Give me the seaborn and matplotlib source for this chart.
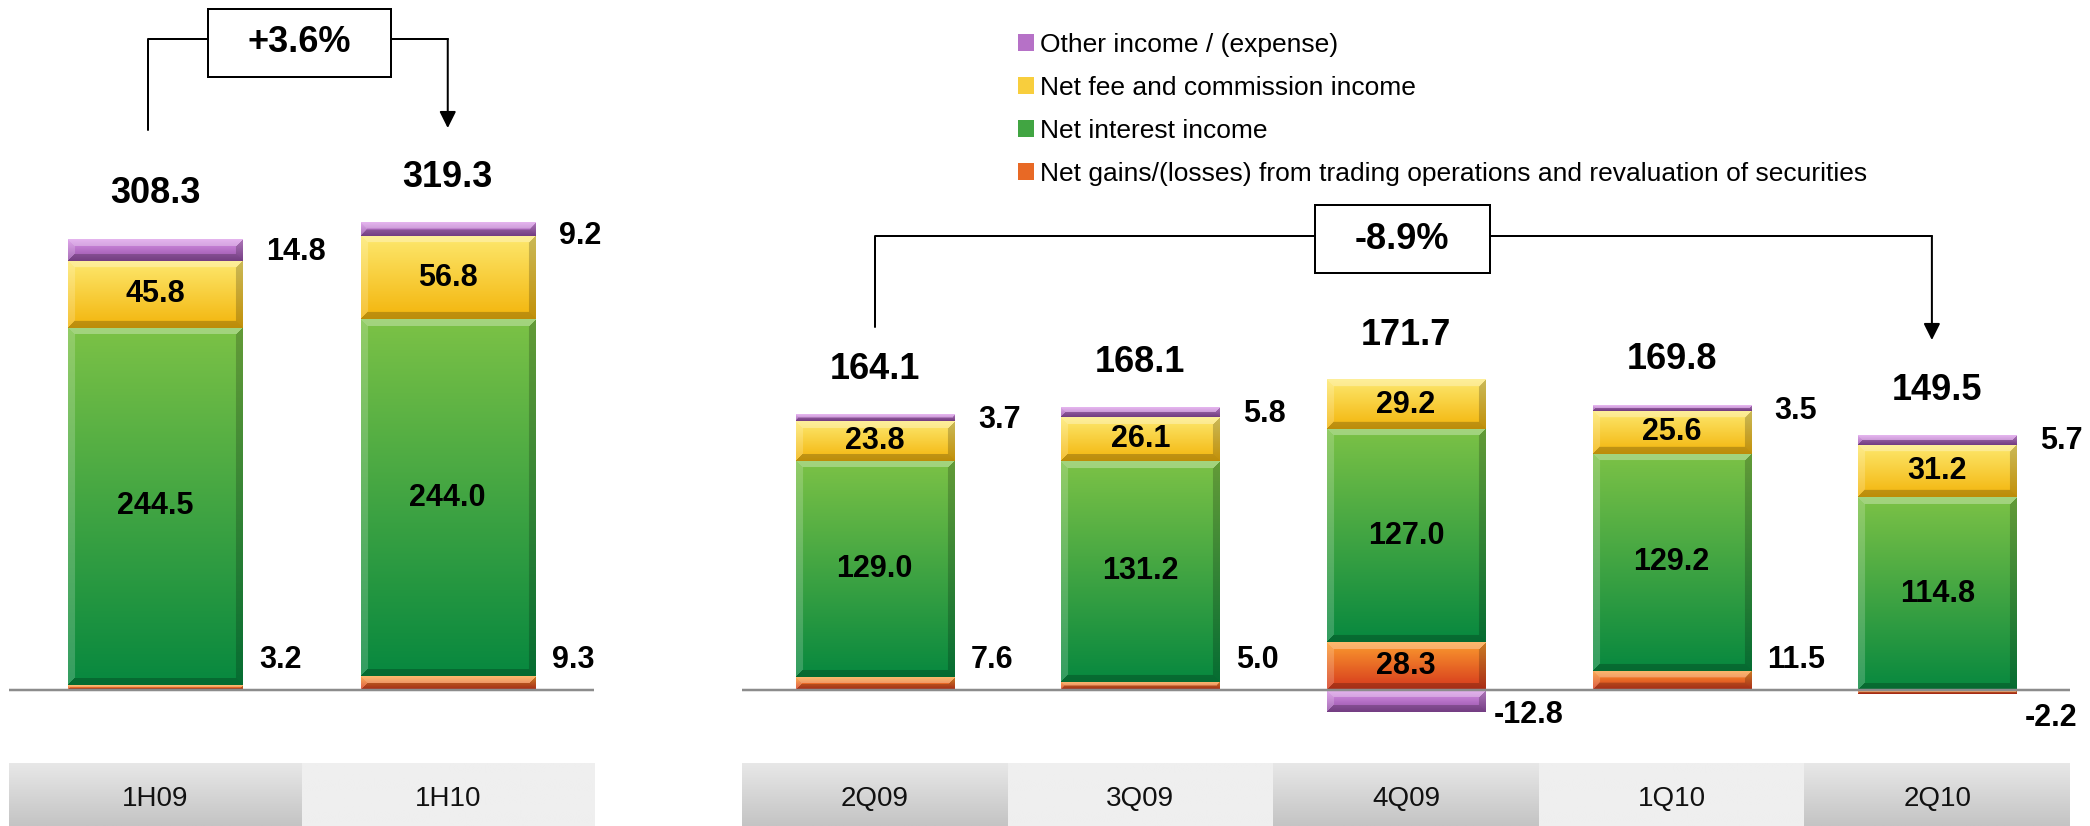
import numpy as np
import pandas as pd
import matplotlib.pyplot as plt
import seaborn as sns
from matplotlib.colors import to_rgb
from matplotlib.patches import Patch, Rectangle

sns.set_style('white')
plt.rcParams['font.family'] = ['Liberation Sans', 'DejaVu Sans']
plt.rcParams['text.color'] = 'black'

# --- data ---
half_periods = ['1H09', '1H10']
half_trading = [3.2, 9.3]
half_interest = [244.5, 244.0]
half_fee = [45.8, 56.8]
half_other = [14.8, 9.2]
half_total = [308.3, 319.3]
half_change = '+3.6%'

quarters = ['2Q09', '3Q09', '4Q09', '1Q10', '2Q10']
q_trading = [7.6, 5.0, 28.3, 11.5, -2.2]
q_interest = [129.0, 131.2, 127.0, 129.2, 114.8]
q_fee = [23.8, 26.1, 29.2, 25.6, 31.2]
q_other = [3.7, 5.8, -12.8, 3.5, 5.7]
q_total = [164.1, 168.1, 171.7, 169.8, 149.5]
q_change = '-8.9%'

series_names = ['Net gains/(losses) from trading operations and revaluation of securities',
                'Net interest income',
                'Net fee and commission income',
                'Other income / (expense)']
# (top, bottom) of each segment's gradient
series_colors = [('#fb9a2e', '#d5381d'),
                 ('#7cc246', '#07883f'),
                 ('#fde86e', '#f3b50c'),
                 ('#d893e6', '#9550a8')]

# --- layout (pixels) ---
W, H = 2090, 826
BASE = 690          # zero line
AX_BOTTOM = 760
STRIP = (763, 826)
BAR_W = 0.595
PT = 72 / 100       # px -> points


def px_rect(x0, y0, x1, y1):
    return [x0 / W, 1 - y1 / H, (x1 - x0) / W, (y1 - y0) / H]


def bar_image(ctop, cbot, w, h, bevel=7):
    h = max(int(round(h)), 2)
    w = max(int(round(w)), 2)
    t = np.linspace(0, 1, h)[:, None, None]
    img = (1 - t) * np.array(to_rgb(ctop)) + t * np.array(to_rgb(cbot))
    img = np.repeat(img, w, axis=1)
    I, J = np.mgrid[0:h, 0:w]
    d = np.stack([I, h - 1 - I, J, w - 1 - J])
    edge = d.argmin(0)
    inb = d.min(0) < min(bevel, max(h // 2, 1))
    shade = {0: (1, 0.30), 1: (0, 0.22), 2: (1, 0.18), 3: (0, 0.20)}
    for k, (tgt, a) in shade.items():
        m = inb & (edge == k)
        img[m] = img[m] * (1 - a) + tgt * a
    return img


def draw_panel(ax, cats, layers, totals, change, scale, ux, top_off, bracket, box):
    n = len(cats)
    pos_base = np.zeros(n)
    neg_base = np.zeros(n)
    for vals, (ctop, cbot) in zip(layers, series_colors):
        vals = np.array(vals, dtype=float)
        bottom = np.where(vals >= 0, pos_base, neg_base)
        df = pd.DataFrame({'period': cats, 'value': vals})
        sns.barplot(data=df, x='period', y='value', bottom=bottom, width=BAR_W,
                    color=ctop, errorbar=None, linewidth=0, ax=ax)
        for rect in ax.containers[-1]:
            x, y, w, h = rect.get_x(), rect.get_y(), rect.get_width(), rect.get_height()
            lo, hi = min(y, y + h), max(y, y + h)
            ax.imshow(bar_image(ctop, cbot, w * ux, (hi - lo) * scale),
                      extent=[x, x + w, lo, hi], aspect='auto', origin='upper',
                      interpolation='bilinear', zorder=3)
        pos_base += np.clip(vals, 0, None)
        neg_base += np.clip(vals, None, 0)

    trading, interest, fee, other = [np.array(v, dtype=float) for v in layers]
    lab = dict(fontsize=22, fontweight='bold', color='black', zorder=5)
    for i in range(n):
        right = i + BAR_W / 2
        ax.annotate(f'{totals[i]:.1f}', (i, pos_base[i]), xytext=(0, 45 * PT),
                    textcoords='offset points', ha='center', va='center',
                    fontsize=26, fontweight='bold', color='black', zorder=5)
        b = max(trading[i], 0)
        ax.text(i, b + interest[i] / 2, f'{interest[i]:.1f}', ha='center', va='center', **lab)
        ax.text(i, b + interest[i] + fee[i] / 2, f'{fee[i]:.1f}', ha='center', va='center', **lab)
        if trading[i] > 20:
            ax.text(i, trading[i] / 2, f'{trading[i]:.1f}', ha='center', va='center', **lab)
        elif trading[i] >= 0:
            ax.annotate(f'{trading[i]:.1f}', (right, 0), xytext=(17 * PT, 30 * PT),
                        textcoords='offset points', ha='left', va='center', **lab)
        else:
            ax.annotate(f'{trading[i]:.1f}', (right, 0), xytext=(9 * PT, -28 * PT),
                        textcoords='offset points', ha='left', va='center', **lab)
        if other[i] >= 0:
            ax.annotate(f'{other[i]:.1f}', (right, pos_base[i]), xytext=(24 * PT, -top_off * PT),
                        textcoords='offset points', ha='left', va='center', **lab)
        else:
            ax.annotate(f'{other[i]:.1f}', (right, 0), xytext=(9 * PT, -25 * PT),
                        textcoords='offset points', ha='left', va='center', **lab)

    ax.axhline(0, color='#8c8c8c', lw=2.5 * PT, zorder=4)

    # bracket with growth box
    xl, xr, yl, yleft_end, ytip = bracket
    ax.plot([xl, xl, xr], [yleft_end, yl, yl], color='black', lw=2 * PT, clip_on=False, zorder=2)
    ax.annotate('', xy=(xr, ytip), xytext=(xr, yl),
                arrowprops=dict(arrowstyle='-|>', color='black', lw=2 * PT,
                                mutation_scale=25, shrinkA=0, shrinkB=0))
    bx0, bx1, by0, by1 = box
    ax.add_patch(Rectangle((bx0, by0), bx1 - bx0, by1 - by0, facecolor='white',
                           edgecolor='black', lw=2 * PT, zorder=6, clip_on=False))
    ax.text((bx0 + bx1) / 2, (by0 + by1) / 2, change, ha='center', va='center',
            fontsize=26, fontweight='bold', color='black', zorder=7)
    ax.set_axis_off()


def draw_strip(ax, cats):
    n = len(cats)
    for i, c in enumerate(cats):
        if i % 2 == 0:
            g = np.linspace(0, 1, 60)[:, None, None]
            img = (1 - g) * np.array(to_rgb('#e8e8e8')) + g * np.array(to_rgb('#c4c4c4'))
        else:
            img = np.ones((2, 1, 3)) * np.array(to_rgb('#efefef'))
        ax.imshow(img, extent=[i - 0.5, i + 0.5, 0, 1], aspect='auto', origin='upper',
                  interpolation='bilinear')
        ax.text(i, 0.43, c, ha='center', va='center', fontsize=20, color='#111111')
    ax.set_xlim(-0.5, n - 0.5)
    ax.set_ylim(0, 1)
    ax.set_axis_off()


fig = plt.figure(figsize=(W / 100, H / 100), dpi=100, facecolor='white')

# left panel: half years
s_left = 1.463
ax1 = fig.add_axes(px_rect(9, 0, 594, AX_BOTTOM))
draw_panel(ax1, half_periods, [half_trading, half_interest, half_fee, half_other],
           half_total, half_change, s_left, 585 / 2, 13,
           bracket=(-0.024, 1.0, 445.0, 382.8, 384.1),
           box=(0.1815, 0.805, 419.0, 465.5))
ax1.set_xlim(-0.5, 1.5)
ax1.set_ylim(-(AX_BOTTOM - BASE) / s_left, BASE / s_left)

# right panel: quarters
s_right = 1.68
ax2 = fig.add_axes(px_rect(742, 0, 2070, AX_BOTTOM))
draw_panel(ax2, quarters, [q_trading, q_interest, q_fee, q_other],
           q_total, q_change, s_right, 1328 / 5, 6,
           bracket=(0.0, 3.98, 270.2, 216.1, 208.3),
           box=(1.657, 2.315, 248.2, 288.7))
ax2.set_xlim(-0.5, 4.5)
ax2.set_ylim(-(AX_BOTTOM - BASE) / s_right, BASE / s_right)

# category strips
draw_strip(fig.add_axes(px_rect(9, STRIP[0], 594, STRIP[1])), half_periods)
draw_strip(fig.add_axes(px_rect(742, STRIP[0], 2070, STRIP[1])), quarters)

# legend (top series first)
handles = [Patch(facecolor=sns.blend_palette([c[0], c[1]], 3)[1], edgecolor='none', label=nm)
           for nm, c in zip(series_names, series_colors)][::-1]
fig.legend(handles=handles, loc='upper left', bbox_to_anchor=(1018 / W, 1 - 33 / H),
           frameon=False, fontsize=19, handlelength=0.6, handleheight=0.6,
           handletextpad=0.25, labelspacing=0.72, borderpad=0, borderaxespad=0)

fig.savefig('out.png', dpi=100, facecolor='white')
